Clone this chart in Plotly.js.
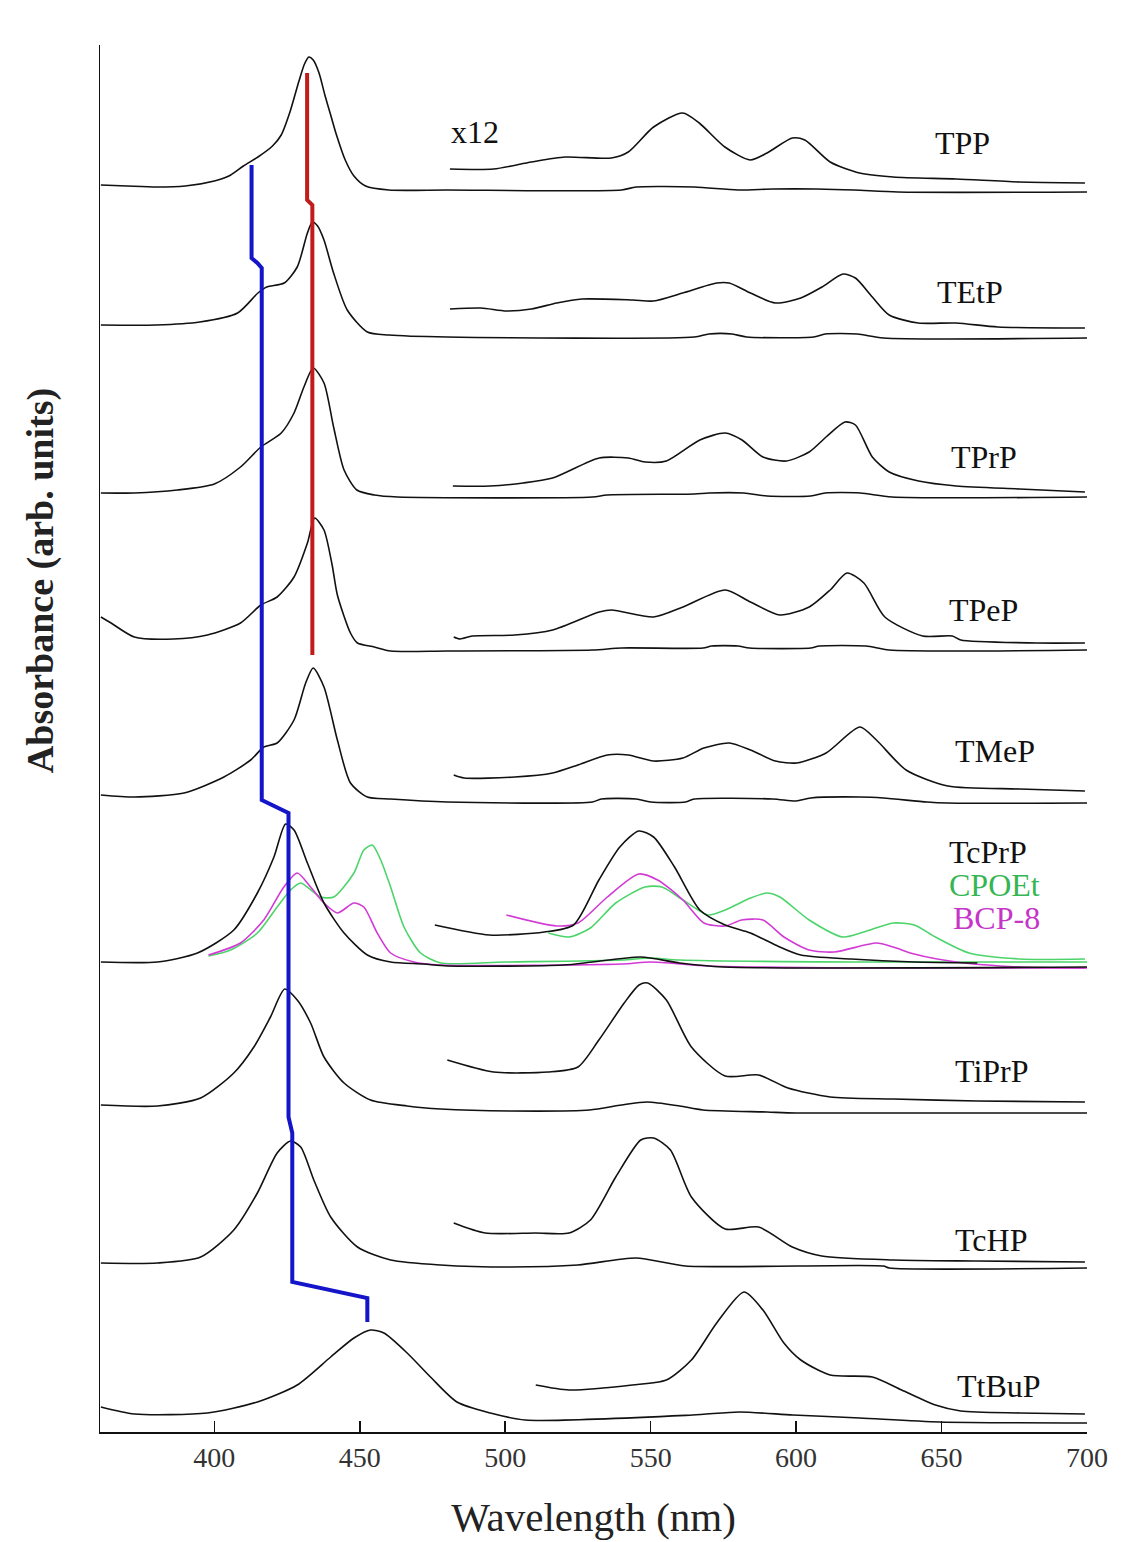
<!DOCTYPE html>
<html>
<head>
<meta charset="utf-8">
<script src="https://cdn.plot.ly/plotly-3.0.1.min.js"></script>
<style>html,body{margin:0;padding:0;background:#fff}#chart{width:1139px;height:1542px}</style>
</head>
<body>
<div id="chart"></div>
<script>
// ---- Soret + full-range spectra (offset, arb. units) ----
const tppX  = [361,370,380,390,400,405,410,415,420,423,426,429,431,432.5,434,436,438,440,442,445,448,452,460,480,540,545,565,580,592,607,620,635,700];
const tppY  = [12.47,12.46,12.45,12.46,12.51,12.56,12.66,12.75,12.86,12.97,13.20,13.50,13.68,13.75,13.72,13.59,13.37,13.17,12.97,12.72,12.56,12.46,12.42,12.42,12.42,12.45,12.45,12.42,12.43,12.43,12.42,12.40,12.40];
const tetpX = [361,380,395,408,415,418,424,428.5,432,433.7,435.5,437.7,441,445.7,452.6,460,480,565,570,578,583,606,610,621,630,700];
const tetpY = [11.07,11.07,11.10,11.19,11.39,11.45,11.49,11.65,11.99,12.10,12.06,11.92,11.59,11.22,11.00,10.97,10.95,10.95,10.98,10.98,10.95,10.95,10.98,10.98,10.94,10.94];
const tprpX = [361,372.5,387.3,400,409,416,423,427.4,430.8,434,437.7,441,444.6,449,455,463,530,535,565,570,582,590,605,610,622,633,700];
const tprpY = [9.39,9.39,9.42,9.48,9.65,9.85,9.99,10.19,10.45,10.64,10.49,10.05,9.62,9.42,9.37,9.35,9.35,9.37,9.38,9.39,9.39,9.36,9.36,9.39,9.39,9.35,9.35];
const tpepX = [361,364.5,372.5,386,397.6,409,416,421.6,427.4,432,434.5,437.7,440.5,442.3,446.8,449.2,455,460.6,480,530,540,568,571,580,584,605,608,624,632,700];
const tpepY = [8.15,8.09,7.95,7.93,7.97,8.09,8.27,8.35,8.55,8.89,9.14,9.02,8.67,8.37,7.99,7.89,7.85,7.81,7.81,7.82,7.84,7.84,7.86,7.86,7.84,7.84,7.86,7.86,7.82,7.82];
const tmepX = [361,372.5,389.6,403.3,412.5,417,421.6,427.4,431.4,434,437.7,442.3,446.8,452.6,460.6,480,530,533,545,550,562,565,592,600,605,622,630,645,652,700];
const tmepY = [6.37,6.35,6.39,6.55,6.72,6.85,6.89,7.12,7.49,7.64,7.45,6.92,6.49,6.35,6.33,6.30,6.30,6.33,6.33,6.30,6.30,6.33,6.33,6.31,6.34,6.35,6.34,6.30,6.29,6.29];
const tcprpX = [361,380.4,394.2,406.7,414.8,420.5,424.5,427.4,432,437.7,444.6,452.6,460.6,472,480,520,530,546.6,560,575,700];
const tcprpY = [4.70,4.70,4.79,5.02,5.39,5.75,6.08,6.02,5.69,5.29,4.99,4.77,4.70,4.68,4.66,4.67,4.70,4.75,4.69,4.65,4.65];
const cpoetX = [398,405.6,414.8,421.6,426.2,429.7,433.2,436.5,441.1,448,451.4,454.3,457.2,460.6,465.2,470.9,477.8,500,540,550,560,620,700];
const cpoetY = [4.76,4.82,4.99,5.25,5.42,5.49,5.42,5.35,5.35,5.59,5.82,5.87,5.72,5.45,5.05,4.79,4.69,4.70,4.72,4.74,4.72,4.70,4.70];
const bcp8X  = [398,409,417,423.9,428.5,433.1,437.7,442.3,448,451.4,456,460.6,468.6,477.8,540,550,570,620,700];
const bcp8Y  = [4.77,4.89,5.12,5.45,5.59,5.45,5.29,5.19,5.29,5.25,4.99,4.79,4.70,4.67,4.68,4.70,4.66,4.64,4.64];
const tiprpX = [361,380.4,395.3,406.7,413.6,419.3,424.2,428.5,433.1,437.7,444.6,453.7,466.3,477.8,501.8,529,540,548.8,560,568,590,600,700];
const tiprpY = [3.27,3.26,3.34,3.59,3.85,4.15,4.43,4.32,4.09,3.75,3.49,3.32,3.26,3.23,3.21,3.22,3.27,3.30,3.26,3.22,3.20,3.19,3.19];
const tchpX  = [361,380.4,395.3,406.7,414.8,421.6,426.2,429.7,434.2,440,449.2,460.6,477.8,501.8,525,545,562,630,632,700];
const tchpY  = [1.69,1.69,1.75,2.02,2.39,2.79,2.91,2.85,2.52,2.15,1.85,1.72,1.67,1.65,1.67,1.74,1.66,1.66,1.64,1.64];
const ttbupX = [361,372.5,397.6,414.8,428.5,440,448,453.7,458.3,466.3,474.3,483.4,494.9,506.9,564.4,580.5,598.9,621.9,649.4,700];
const ttbupY = [0.25,0.18,0.19,0.30,0.47,0.75,0.94,1.02,0.99,0.79,0.55,0.30,0.19,0.12,0.17,0.20,0.17,0.14,0.10,0.09];

// ---- Q-band spectra (x12) ----
const tppQX  = [481,496,509,520.6,536.5,542.3,551,561,566.7,575.5,584.2,590,598.7,603,611.7,621.8,633.4,655,676.7,699.3];
const tppQY  = [12.63,12.63,12.70,12.75,12.74,12.80,13.05,13.19,13.09,12.85,12.72,12.79,12.94,12.92,12.70,12.59,12.55,12.53,12.50,12.49];
const tetpQX = [481,491.7,500.4,509,517.7,526.4,543.8,551,561,572.7,577,584.3,592.9,601.6,608.9,616.1,620.4,626.2,632,642,655,669.4,699.3];
const tetpQY = [11.23,11.24,11.21,11.23,11.29,11.33,11.32,11.31,11.39,11.49,11.49,11.39,11.29,11.34,11.45,11.58,11.54,11.35,11.17,11.09,11.09,11.05,11.04];
const tprpQX = [482,494.6,506.2,516.3,532.3,542.3,548.1,555.4,566.9,575.6,581.4,588.6,596.6,604.5,610.3,616.8,620.4,626.2,632,642.1,655.1,676.8,699.3];
const tprpQY = [9.46,9.46,9.49,9.54,9.74,9.74,9.70,9.71,9.92,9.99,9.92,9.75,9.71,9.80,9.95,10.10,10.07,9.75,9.60,9.51,9.46,9.43,9.40];
const tpepQX = [482.3,484.5,488.7,503.3,516.3,532.3,536.6,551,561.1,575.6,584.3,594.4,604.5,611.7,617.5,623.3,630.5,643.5,653.7,656.6,682.6,699.3];
const tpepQY = [7.95,7.93,7.96,7.97,8.02,8.20,8.22,8.15,8.25,8.42,8.30,8.17,8.25,8.42,8.59,8.49,8.15,7.96,7.96,7.92,7.89,7.89];
const tmepQX = [482.3,485.9,503.3,516.3,525,535.1,542.3,551,561.1,568.3,577,584.3,592.9,600.2,610.3,621.9,627.6,637.8,652.2,676.8,699.3];
const tmepQY = [6.57,6.54,6.55,6.59,6.67,6.77,6.77,6.71,6.74,6.84,6.89,6.82,6.71,6.69,6.79,7.05,6.92,6.62,6.46,6.43,6.41];
const tcprpQX = [475.8,494.6,513.4,523.5,532.2,539.4,545.9,551,558.2,566.9,575.6,584.3,592.9,601.6,618.9,640.6,662.3];
const tcprpQY = [5.07,4.97,5.00,5.07,5.52,5.85,6.01,5.95,5.65,5.22,5.07,4.99,4.87,4.77,4.73,4.70,4.69];
const cpoetQX = [514.8,522,529.3,538,548.1,553.9,561.1,569.8,575.6,584.3,590,594.4,604.5,616.1,623.3,633.4,640.6,647.9,659.5,676.8,699.3];
const cpoetQY = [4.99,4.95,5.04,5.29,5.45,5.45,5.32,5.17,5.22,5.34,5.39,5.35,5.12,4.95,5.00,5.09,5.07,4.95,4.79,4.73,4.73];
const bcp8QX  = [500.4,517.7,525,535.1,545.9,552.4,561.1,568.3,575.6,581.3,588.6,595.8,604.5,613.1,627.6,633.4,640.6,655.1,676.8,699.3];
const bcp8QY  = [5.17,5.06,5.09,5.35,5.58,5.52,5.32,5.09,5.06,5.12,5.12,4.95,4.82,4.80,4.89,4.85,4.78,4.70,4.65,4.64];
const tiprpQX = [480.1,496,514.8,525,532.2,540.9,546,549,555.4,564,575.6,587.1,597.2,611.7,633.4,662.3,699.3];
const tiprpQY = [3.72,3.60,3.60,3.65,3.92,4.29,4.47,4.49,4.32,3.85,3.56,3.57,3.44,3.35,3.33,3.31,3.30];
const tchpQX  = [482.3,493.1,510.5,522,529.3,538,546.6,551,556.8,564,575.6,587.1,598.7,608.8,633.4,662.3,699.3];
const tchpQY  = [2.09,1.99,1.99,1.99,2.12,2.55,2.92,2.94,2.82,2.35,2.03,2.05,1.85,1.76,1.72,1.71,1.70];
const ttbupQX = [510.5,522,543.7,555.4,564,572.7,582.1,588.6,595.8,601.6,611.7,626.2,636.3,647.9,656.6,676.8,699.3];
const ttbupQY = [0.47,0.42,0.47,0.52,0.72,1.09,1.40,1.22,0.89,0.72,0.57,0.55,0.42,0.27,0.21,0.19,0.18];

// ---- Soret peak-position guide lines ----
const blueX = [412.8,412.8,414.8,416.3,416.3,425.5,425.5,426.3,426.8,426.8,452.6,452.6];
const blueY = [12.67,11.74,11.69,11.64,6.32,6.19,3.15,3.07,2.99,1.50,1.34,1.10];
const redX  = [431.9,431.9,433.7,433.7];
const redY  = [13.59,12.32,12.27,7.77];

// ---- labels ----
const labelText = ['TPP','TEtP','TPrP','TPeP','TMeP','TcPrP','CPOEt','BCP-8','TiPrP','TcHP','TtBuP','x12'];
const labelX    = [647,647.6,652.5,651.8,654,651.8,651.8,653.2,654,654,654.5,480.6];
const labelY    = [12.89,11.40,9.75,8.22,6.81,5.80,5.47,5.14,3.61,1.92,0.46,13.0];
const labelColor= ['#111','#111','#111','#111','#111','#111','#35b653','#c535c8','#111','#111','#111','#111'];

const SERIF = 'Liberation Serif, Times New Roman, serif';
const BLACK = '#111', GREEN = '#4cd46a', MAGENTA = '#d23ad6';
function line(x, y, color, w, smooth) {
  return {type:'scatter', mode:'lines', x:x, y:y,
    line:{color:color, width:w, shape: smooth ? 'spline' : 'linear', smoothing: 0.7},
    hoverinfo:'skip', showlegend:false};
}
const traces = [
  line(cpoetX, cpoetY, GREEN, 1.6, true),
  line(bcp8X, bcp8Y, MAGENTA, 1.6, true),
  line(cpoetQX, cpoetQY, GREEN, 1.6, true),
  line(bcp8QX, bcp8QY, MAGENTA, 1.6, true),
  line(tppX, tppY, BLACK, 1.6, true), line(tppQX, tppQY, BLACK, 1.6, true),
  line(tetpX, tetpY, BLACK, 1.6, true), line(tetpQX, tetpQY, BLACK, 1.6, true),
  line(tprpX, tprpY, BLACK, 1.6, true), line(tprpQX, tprpQY, BLACK, 1.6, true),
  line(tpepX, tpepY, BLACK, 1.6, true), line(tpepQX, tpepQY, BLACK, 1.6, true),
  line(tmepX, tmepY, BLACK, 1.6, true), line(tmepQX, tmepQY, BLACK, 1.6, true),
  line(tcprpX, tcprpY, BLACK, 1.6, true), line(tcprpQX, tcprpQY, BLACK, 1.6, true),
  line(tiprpX, tiprpY, BLACK, 1.6, true), line(tiprpQX, tiprpQY, BLACK, 1.6, true),
  line(tchpX, tchpY, BLACK, 1.6, true), line(tchpQX, tchpQY, BLACK, 1.6, true),
  line(ttbupX, ttbupY, BLACK, 1.6, true), line(ttbupQX, ttbupQY, BLACK, 1.6, true),
  line(blueX, blueY, '#1414c8', 4, false),
  line(redX, redY, '#c01c1c', 4, false)
];

const annotations = labelText.map((t, i) => ({
  x: labelX[i], y: labelY[i], xref:'x', yref:'y', text:t, showarrow:false,
  xanchor:'left', yanchor:'middle',
  font:{family:SERIF, size:32, color:labelColor[i]}
}));
// y-axis title (placed above the axis centre, as in the original figure)
annotations.push({
  xref:'paper', yref:'paper', x:-0.06, y:0.614, xanchor:'center', yanchor:'middle',
  text:'<b>Absorbance (arb. units)</b>', textangle:-90, showarrow:false,
  font:{family:SERIF, size:38, color:'#222'}
});

const layout = {
  width:1139, height:1542,
  margin:{l:100, r:52, t:45, b:110},
  paper_bgcolor:'#fff', plot_bgcolor:'#fff',
  showlegend:false,
  xaxis:{
    range:[360.7,700], tickvals:[400,450,500,550,600,650,700],
    ticks:'inside', ticklen:11, tickwidth:1.5, tickcolor:'#111',
    showline:true, linecolor:'#111', linewidth:1.5, showgrid:false, zeroline:false,
    tickfont:{family:SERIF, size:28, color:'#333'},
    title:{text:'Wavelength (nm)', standoff:30, font:{family:SERIF, size:41, color:'#222'}}
  },
  yaxis:{
    range:[0,13.87], showticklabels:false, ticks:'',
    showline:true, linecolor:'#111', linewidth:1.5, showgrid:false, zeroline:false
  },
  annotations: annotations
};

Plotly.newPlot('chart', traces, layout, {staticPlot:true, displayModeBar:false});
</script>
</body>
</html>
